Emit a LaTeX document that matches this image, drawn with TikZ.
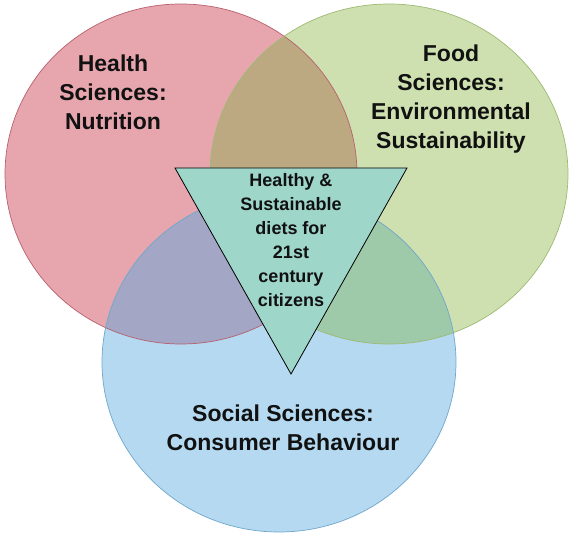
\documentclass[tikz,border=0pt]{standalone}
\usepackage{fontspec}
\setmainfont{Liberation Sans}
\definecolor{cred}{HTML}{E7A5AE}
\definecolor{cgreen}{HTML}{CEE0B0}
\definecolor{cblue}{HTML}{B4D9F0}
\definecolor{crg}{HTML}{BCA981}
\definecolor{crb}{HTML}{A3A6C4}
\definecolor{cgb}{HTML}{9ECAA9}
\definecolor{crgb}{HTML}{9AA890}
\definecolor{ctri}{HTML}{9FD6CA}
\definecolor{lred}{HTML}{B8606E}
\definecolor{lgreen}{HTML}{9DBA72}
\definecolor{lblue}{HTML}{6FA6CC}
\definecolor{ink}{HTML}{111111}
\begin{document}
\begin{tikzpicture}[x=1pt,y=-1pt,
  outl/.style={line width=0.7pt},
  biglabel/.style={font=\fontsize{23}{29}\selectfont\bfseries, text=ink, align=center, inner sep=0pt},
  trilabel/.style={font=\fontsize{18}{24}\selectfont\bfseries, text=ink, align=center, inner sep=0pt}]
\useasboundingbox (0,0) rectangle (573,534);
\def\redE{(181,174) ellipse [x radius=176pt, y radius=170pt]}
\def\greenE{(389,174) ellipse [x radius=179pt, y radius=170pt]}
\def\blueE{(279,362) ellipse [x radius=177pt, y radius=170pt]}
% base fills
\fill[cred] \redE;
\fill[cgreen] \greenE;
\fill[cblue] \blueE;
% overlaps
\begin{scope}\clip \redE; \fill[crg] \greenE; \end{scope}
\begin{scope}\clip \redE; \fill[crb] \blueE; \end{scope}
\begin{scope}\clip \greenE; \fill[cgb] \blueE; \end{scope}
\begin{scope}\clip \redE; \clip \greenE; \fill[crgb] \blueE; \end{scope}
% outlines
\draw[outl, lred] \redE;
\draw[outl, lgreen] \greenE;
\draw[outl, lblue] \blueE;
% triangle
\coordinate (tl) at (175,168);
\coordinate (tr) at (407,168);
\coordinate (tb) at (291,374);
\fill[ctri] (tl) -- (tr) -- (tb) -- cycle;
\draw[line width=0.8pt, black, line join=miter] (tl) -- (tr) -- (tb) -- cycle;
% labels
\node[biglabel] (health) at (113,92) {Health\\Sciences:\\Nutrition};
\node[biglabel] (food) at (451,99) {Food\\Sciences:\\Environmental\\Sustainability};
\node[biglabel] (social) at (283,428) {Social Sciences:\\Consumer Behaviour};
\node[trilabel] (centre) at (291,240) {Healthy \&\\Sustainable\\diets for\\21st\\century\\citizens};
\end{tikzpicture}
\end{document}
